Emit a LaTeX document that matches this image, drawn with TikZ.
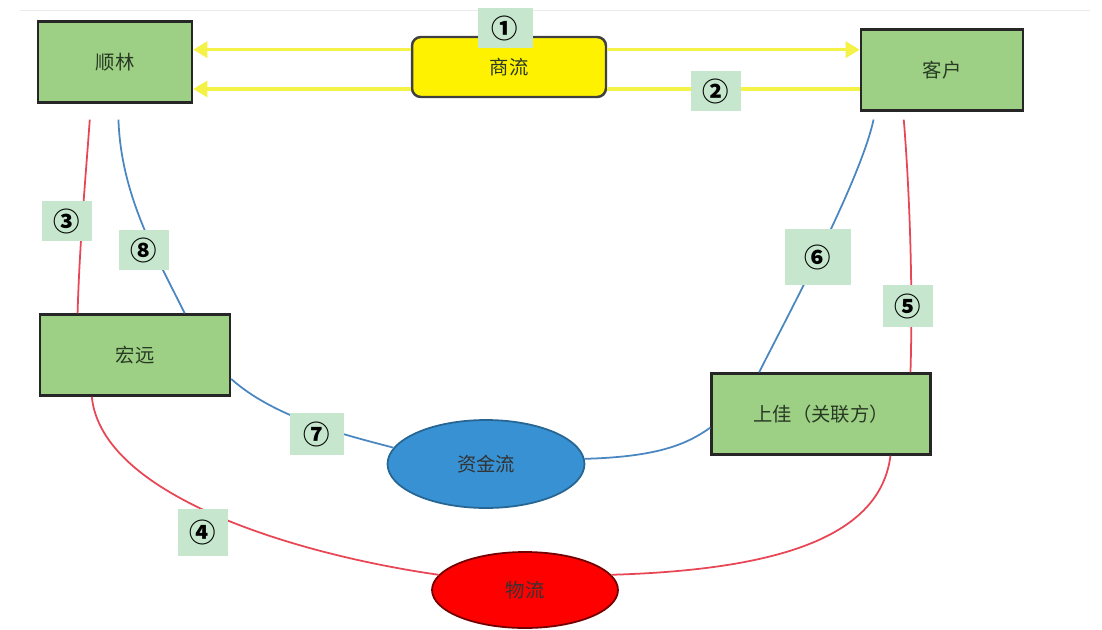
\documentclass[tikz,border=0pt]{standalone}
\usepackage{fontspec}
\newfontfamily\cjk{Noto Sans CJK SC}
\usetikzlibrary{shapes.geometric,arrows.meta}
\definecolor{boxgreen}{RGB}{157,208,132}
\definecolor{taggreen}{RGB}{198,231,205}
\definecolor{flowyellow}{RGB}{244,242,70}
\definecolor{flowred}{RGB}{232,70,84}
\definecolor{flowblue}{RGB}{74,134,192}
\definecolor{fundblue}{RGB}{55,145,210}
\definecolor{inktext}{RGB}{40,58,36}

\begin{document}
\begin{tikzpicture}[x=0.02cm,y=-0.02cm,
  every node/.style={font=\cjk\fontsize{11}{13}\selectfont},
  party/.style={rectangle,draw=black!85,line width=1.4pt,fill=boxgreen,text=inktext,minimum width=#1,minimum height=1.62cm},
  trade/.style={rectangle,rounded corners=5pt,draw=black!75,line width=1.4pt,fill=yellow,text=inktext,minimum width=3.88cm,minimum height=1.2cm},
  flow/.style={ellipse,inner sep=0pt,line width=1pt,minimum width=#1},
  tag/.style={fill=taggreen,inner sep=0pt,minimum width=1cm,minimum height=0.8cm,font=\cjk\bfseries\fontsize{15}{15}\selectfont},
  yline/.style={flowyellow,line width=2pt},
  yarrow/.style={yline,-{Triangle[length=8pt,width=9pt]}},
  redpath/.style={flowred,line width=1pt},
  bluepath/.style={flowblue,line width=1pt}
]
  \useasboundingbox (0,0) rectangle (1102,629);
  \draw[black!8] (20,10) -- (1090,10);

  % parties
  \node[party=3.08cm] (sl) at (115,62) {顺林};
  \node[party=3.24cm] (kh) at (942,70) {客户};
  \node[party=3.8cm] (hy) at (135,355) {宏远};
  \node[party=4.38cm] (sj) at (821,414) {上佳（关联方）};
  \node[trade] (sh) at (509,67) {商流};
  \node[flow=3.94cm,minimum height=1.76cm,draw=fundblue!70!black,fill=fundblue,text=black!80] (zj) at (486,464) {资金流};
  \node[flow=3.72cm,minimum height=1.52cm,draw=red!45!black,fill=red,text=black!80] (wl) at (525,590) {物流};

  % business flow
  \draw[yarrow] (sh.170) -- (sl.east |- sh.170);
  \draw[yarrow] (sh.10) -- (kh.west |- sh.10);
  \draw[yline] (kh.193.9) -- (sh.east |- kh.193.9);
  \draw[yarrow] (sh.west |- kh.193.9) -- (sl.east |- kh.193.9);

  % goods
  \draw[redpath,shorten <=0.32cm] (sl.240) .. controls +(-5,70) and +(2,-70) .. (hy.144.6);
  \draw[redpath] (hy.224) .. controls +(10,100) and +(-140,-20) .. (wl.170);
  \draw[redpath] (wl.10) .. controls +(170,-5) and +(-10,80) .. (sj.329.6);
  \draw[redpath,shorten >=0.16cm] (sj.25.2) .. controls +(3,-100) and +(5,60) .. (kh.227.6);

  % money
  \draw[bluepath,shorten <=0.32cm] (sl.274) .. controls +(3,90) and +(-30,-60) .. (hy.40.75);
  \draw[bluepath] (hy.346.4) .. controls +(45,40) and +(-45,-12) .. (zj.170);
  \draw[bluepath] (zj.3) .. controls +(70,-2) and +(-25,18) .. (sj.187.3);
  \draw[bluepath,shorten >=0.16cm] (sj.146.4) .. controls +(25,-50) and +(-15,70) .. (kh.212.3);

  % step numbers
  \node[tag,minimum width=1.1cm] (t1) at (505,28) {①};
  \node[tag] (t2) at (716,91) {②};
  \node[tag] (t3) at (67,221) {③};
  \node[tag,minimum height=0.94cm] (t4) at (203,532) {④};
  \node[tag,minimum height=0.84cm] (t5) at (908,306) {⑤};
  \node[tag,minimum width=1.32cm,minimum height=1.14cm] (t6) at (818,257) {⑥};
  \node[tag,minimum width=1.08cm,minimum height=0.84cm] (t7) at (317,434) {⑦};
  \node[tag] (t8) at (144,250) {⑧};
\end{tikzpicture}
\end{document}
